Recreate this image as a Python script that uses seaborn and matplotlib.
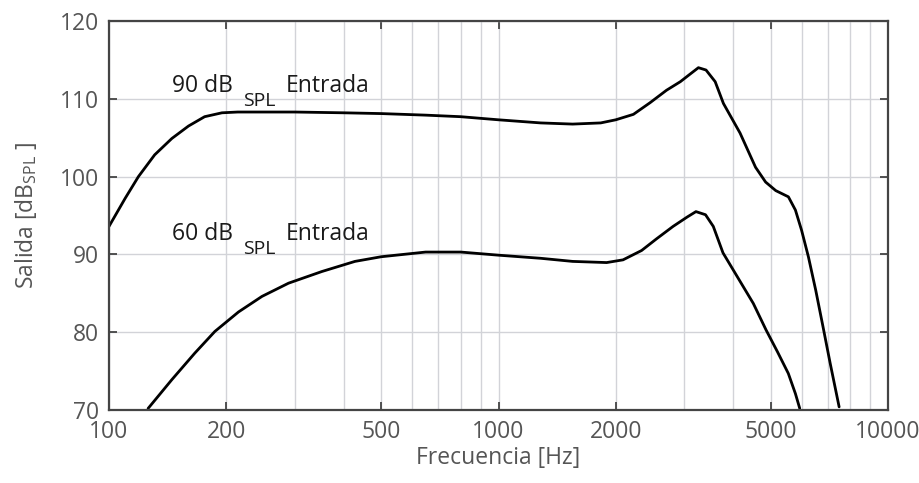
import numpy as np
import pandas as pd
import seaborn as sns
import matplotlib
matplotlib.use("Agg")
import matplotlib.pyplot as plt
from matplotlib.ticker import FixedLocator, NullFormatter, FixedFormatter

freq_90 = [100, 110, 119, 131, 145, 160, 176, 195, 214, 250, 300, 400, 500, 650, 800, 1000, 1283, 1550, 1830, 2000, 2220, 2450, 2700, 2930, 3090, 3260, 3410, 3600, 3780, 4170, 4570, 4850, 5150, 5550, 5785, 6000, 6246, 6523, 6810, 7105, 7491]
spl_90 = [93.6, 97.2, 100.0, 102.8, 104.9, 106.5, 107.7, 108.2, 108.3, 108.3, 108.3, 108.2, 108.1, 107.9, 107.7, 107.3, 106.9, 106.75, 106.9, 107.3, 108.0, 109.5, 111.1, 112.2, 113.1, 114.0, 113.7, 112.2, 109.4, 105.6, 101.2, 99.3, 98.2, 97.4, 95.7, 93.1, 89.7, 85.4, 80.7, 76.0, 70.4]

freq_60 = [126, 145, 166, 187, 215, 247, 289, 352, 428, 500, 650, 800, 1000, 1283, 1550, 1895, 2088, 2330, 2545, 2807, 3050, 3213, 3400, 3560, 3770, 4510, 4862, 5200, 5547, 5785, 5935]
spl_60 = [70.2, 73.9, 77.3, 80.1, 82.6, 84.6, 86.3, 87.8, 89.1, 89.7, 90.3, 90.3, 89.9, 89.5, 89.1, 88.95, 89.3, 90.5, 92.0, 93.6, 94.8, 95.5, 95.1, 93.6, 90.2, 83.7, 80.3, 77.5, 74.7, 72.1, 70.2]

label_in = ["90 dB", "60 dB"]
label_sub = "SPL"
label_tail = "Entrada"
xticks = [100, 200, 500, 1000, 2000, 5000, 10000]
yticks = [70, 80, 90, 100, 110, 120]

df = pd.concat([
    pd.DataFrame({"f": freq_90, "spl": spl_90, "serie": "90"}),
    pd.DataFrame({"f": freq_60, "spl": spl_60, "serie": "60"}),
])

sns.set_theme(style="white")
plt.rcParams["font.family"] = ["Open Sans", "DejaVu Sans"]
plt.rcParams["mathtext.fontset"] = "custom"
plt.rcParams["mathtext.rm"] = "Open Sans"

fig = plt.figure(figsize=(9.19, 4.83), dpi=100)
ax = fig.add_axes([109/919, 1-410/483, (888-109)/919, (410-21)/483])

sns.lineplot(data=df, x="f", y="spl", units="serie", estimator=None, sort=False,
             color="black", lw=2.0, ax=ax, legend=False)

ax.set_xscale("log")
ax.set_xlim(100, 10000)
ax.set_ylim(70, 120)

minor = [m * d for d in (100, 1000) for m in range(2, 10)]
ax.xaxis.set_major_locator(FixedLocator(xticks))
ax.xaxis.set_major_formatter(FixedFormatter([str(t) for t in xticks]))
ax.xaxis.set_minor_locator(FixedLocator(minor))
ax.xaxis.set_minor_formatter(NullFormatter())
ax.set_yticks(yticks)

ax.grid(True, which="both", axis="x", color="#d2d3d8", lw=1.0)
ax.grid(True, which="major", axis="y", color="#d2d3d8", lw=1.0)
ax.set_axisbelow(True)

txtc = "#555555"
ax.tick_params(axis="both", which="major", direction="in", length=6, width=1.3,
               colors="#444444", labelcolor=txtc, labelsize=16.5, top=True, right=True,
               bottom=True, left=True, pad=7)
ax.tick_params(axis="x", which="minor", length=0)
for s in ax.spines.values():
    s.set_color("#444444")
    s.set_linewidth(1.6)

ax.set_xlabel("Frecuencia [Hz]", fontsize=16.5, color=txtc, labelpad=2)
ax.set_ylabel("Salida [dB$_{\\mathrm{SPL}}$ ]", fontsize=16.5, color=txtc, labelpad=15)

labc = "#1a1a1a"
for main, ybase in zip(label_in, [110.87, 91.85]):
    ax.annotate(main, xy=(145, ybase), xytext=(0, 0), textcoords="offset pixels",
                fontsize=16.5, color=labc, ha="left", va="baseline")
    ax.annotate(label_sub, xy=(145, ybase), xytext=(71, -14), textcoords="offset pixels",
                fontsize=14, color=labc, ha="left", va="baseline")
    ax.annotate(label_tail, xy=(145, ybase), xytext=(114, 0), textcoords="offset pixels",
                fontsize=16.5, color=labc, ha="left", va="baseline")

fig.savefig("out.png", dpi=100)
